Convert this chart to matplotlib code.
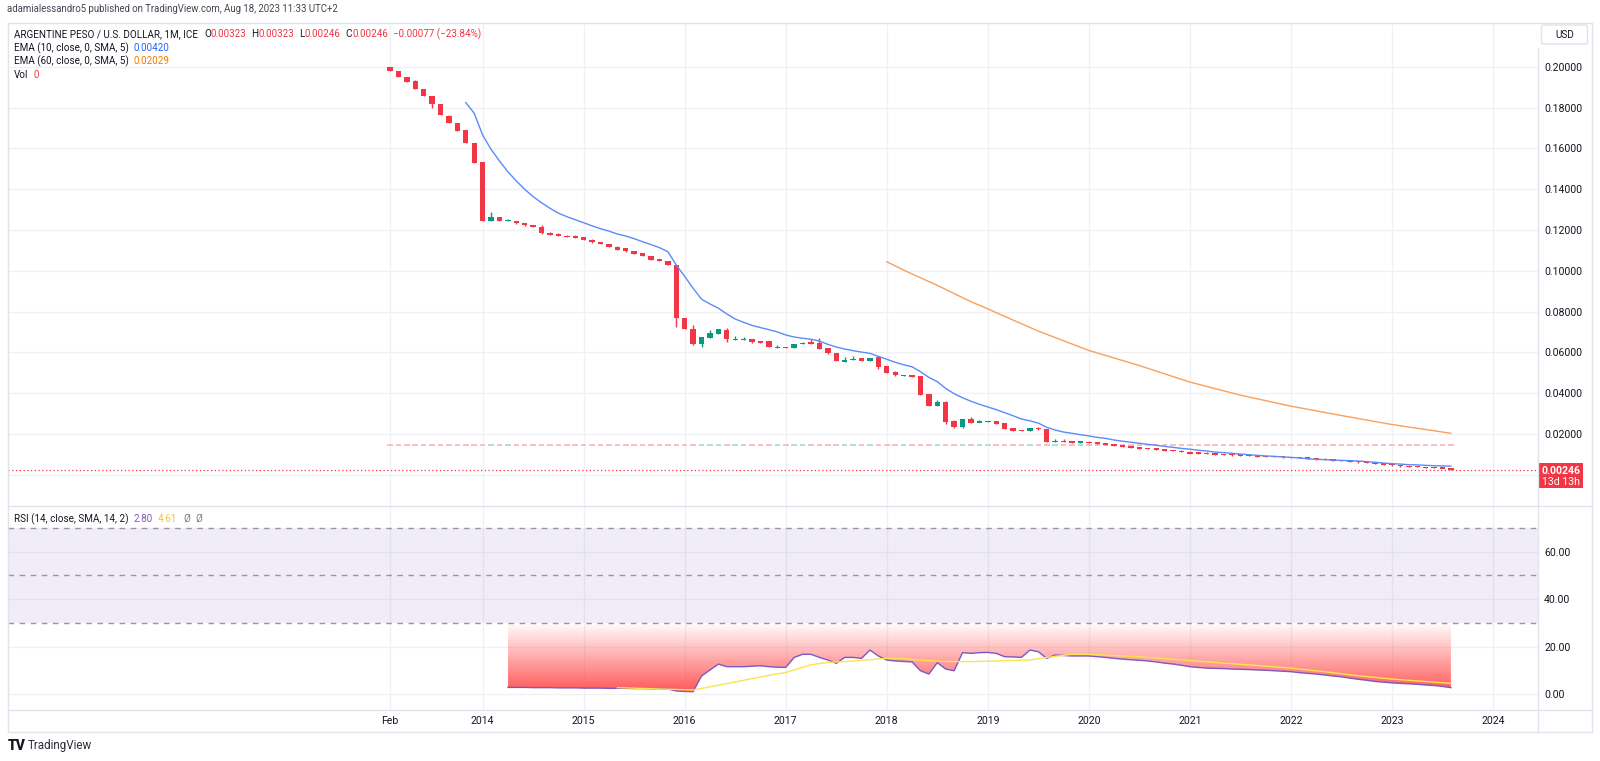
import numpy as np
import matplotlib
matplotlib.use("Agg")
import matplotlib.pyplot as plt
from matplotlib.patches import Rectangle, FancyBboxPatch, Polygon
from matplotlib.lines import Line2D

plt.rcParams['font.family'] = ['Roboto', 'DejaVu Sans']

# ---------------- data (monthly bars, index 0 = Feb 2013) ----------------
opens = [.1997, .1979, .1950, .1928, .1891, .1855, .1816, .1760, .1725, .1688,
         .1627, .1531, .1244, .1263, .1244, .1245, .1232, .1223, .1213, .1187,
         .1180, .1172, .1169, .1164, .1152, .1142, .1131, .1118, .1110, .1097,
         .1085, .1072, .1058, .1049, .1028, .0767, .0713, .0639, .0672, .0691,
         .0709, .0661, .0661, .0665, .0654, .0655, .0624, .0627, .0620, .0641,
         .0647, .0647, .0620, .0598, .0555, .0561, .0570, .0559, .0575, .0534,
         .0502, .0487, .0490, .0484, .0396, .0337, .0358, .0265, .0232, .0273,
         .0258, .0257, .0263, .0252, .0227, .0219, .0216, .0230, .0223, .0159,
         .0166, .0164, .0158, .0162, .0159, .0155, .0150, .0146, .0141, .0134,
         .0132, .0131, .0126, .0121, .0118, .0113, .0110, .0108, .0103, .0101,
         .0101, .0099, .0098, .0095, .0093, .0093, .0091, .0088, .0087, .0085,
         .0082, .0079, .0075, .0072, .0070, .0067, .0064, .0059, .0055, .0052,
         .0048, .0044, .0043, .0038, .0036, .0035, .00323]
highs = [.1999, .1980, .1951, .1935, .1892, .1856, .1817, .1761, .1726, .1690,
         .1628, .1532, .1289, .1264, .1252, .1246, .1233, .1224, .1224, .1188,
         .1185, .1173, .1177, .1165, .1153, .1143, .1132, .1119, .1111, .1098,
         .1086, .1073, .1059, .1050, .1029, .0768, .0734, .0677, .0708, .0714,
         .0721, .0680, .0677, .0666, .0655, .0656, .0638, .0628, .0642, .0652,
         .0664, .0672, .0621, .0599, .0575, .0580, .0571, .0574, .0576, .0535,
         .0510, .0490, .0491, .0485, .0397, .0366, .0359, .0266, .0274, .0281,
         .0270, .0263, .0264, .0253, .0228, .0220, .0230, .0235, .0224, .0176,
         .0174, .0165, .0165, .0163, .0160, .0156, .0151, .0147, .0142, .0135,
         .0133, .0132, .0127, .0122, .0119, .0114, .0112, .0109, .0104, .0102,
         .0102, .0100, .0099, .0096, .0094, .0094, .0092, .0089, .0088, .0086,
         .0083, .0080, .0076, .0073, .0071, .0068, .0065, .0060, .0056, .0053,
         .0049, .0045, .0044, .0039, .0037, .0036, .00323]
lows = [.1978, .1950, .1925, .1891, .1857, .1799, .1762, .1722, .1685, .1624,
        .1528, .1243, .1243, .1243, .1243, .1231, .1221, .1212, .1182, .1174,
        .1169, .1164, .1161, .1149, .1138, .1130, .1117, .1102, .1094, .1082,
        .1070, .1053, .1046, .1026, .0726, .0712, .0638, .0626, .0671, .0690,
        .0652, .0660, .0660, .0648, .0646, .0626, .0623, .0619, .0619, .0640,
        .0643, .0615, .0594, .0558, .0554, .0560, .0558, .0558, .0516, .0499,
        .0486, .0486, .0479, .0391, .0336, .0336, .0247, .0231, .0231, .0254,
        .0257, .0256, .0249, .0225, .0215, .0214, .0215, .0221, .0158, .0158,
        .0159, .0157, .0157, .0154, .0149, .0145, .0140, .0135, .0131, .0126,
        .0125, .0122, .0117, .0114, .0110, .0102, .0102, .0100, .0097, .0096,
        .0094, .0094, .0091, .0087, .0087, .0087, .0084, .0082, .0080, .0077,
        .0074, .0071, .0068, .0066, .0063, .0059, .0056, .0051, .0048, .0045,
        .0040, .0038, .0037, .0034, .0033, .0032, .00246]
closes = [.1980, .1951, .1926, .1892, .1858, .1816, .1763, .1723, .1686, .1625,
          .1529, .1244, .1263, .1244, .1246, .1232, .1222, .1213, .1183, .1175,
          .1170, .1165, .1162, .1150, .1139, .1131, .1118, .1103, .1095, .1083,
          .1071, .1054, .1047, .1027, .0767, .0713, .0639, .0676, .0693, .0713,
          .0664, .0663, .0663, .0649, .0647, .0627, .0626, .0620, .0641, .0647,
          .0644, .0616, .0595, .0559, .0561, .0569, .0559, .0573, .0529, .0500,
          .0487, .0488, .0480, .0392, .0337, .0358, .0260, .0232, .0273, .0255,
          .0259, .0262, .0250, .0226, .0216, .0215, .0229, .0222, .0159, .0166,
          .0160, .0158, .0164, .0155, .0150, .0146, .0141, .0136, .0132, .0127,
          .0126, .0123, .0118, .0115, .0111, .0103, .0103, .0101, .0098, .0097,
          .0095, .0095, .0092, .0088, .0088, .0088, .0085, .0083, .0081, .0078,
          .0075, .0072, .0069, .0067, .0064, .0060, .0057, .0052, .0049, .0046,
          .0041, .0039, .0038, .0035, .0034, .00323, .00246]

ema10_start = 9
ema10 = [.1824, .1772, .1665, .1595, .1538, .1485, .1440, .1399, .1363, .1333,
         .1306, .1282, .1265, .1250, .1235, .1220, .1206, .1194, .1180, .1170,
         .1157, .1142, .1128, .1113, .1093, .1028, .0972, .0914, .0860, .0837,
         .0816, .0788, .0763, .0747, .0732, .0721, .0711, .0700, .0685, .0675,
         .0669, .0664, .0655, .0639, .0626, .0616, .0608, .0601, .0595, .0580,
         .0566, .0551, .0539, .0529, .0505, .0477, .0456, .0423, .0397, .0377,
         .0360, .0345, .0332, .0319, .0304, .0289, .0273, .0264, .0253, .0232,
         .0219, .0209, .0203, .0196, .0190, .0183, .0178, .0170, .0164, .0159,
         .0154, .0149, .0144, .0139, .0134, .0129, .0125, .0120, .0116, .0111,
         .0108, .0105, .0101, .0098, .0095, .0092, .0090, .0087, .0085, .0082,
         .0078, .0075, .0074, .0072, .0070, .0069, .0067, .0064, .0061, .0057,
         .0054, .0052, .0049, .0048, .0046, .0044, .0043, .0042]

ema60_idx = [59, 61, 65, 69, 71, 73, 77, 83, 89, 95, 101, 107, 113, 119, 126]
ema60 = [.1044, .1003, .0928, .0848, .0813, .0776, .0704, .0609, .0535, .0454,
         .0390, .0336, .0290, .0246, .0203]

rsi_start = 14
rsi = [2.9, 2.9, 2.9, 2.8, 2.8, 2.8, 2.7, 2.7, 2.7, 2.6, 2.6, 2.6, 2.5, 2.5,
       2.5, 2.4, 2.4, 2.3, 2.3, 2.2, 1.4, 1.2, 1.1, 7.7, 10.2, 12.7, 11.6, 11.6,
       11.6, 11.8, 12.0, 11.6, 11.4, 11.3, 15.5, 16.8, 16.8, 15.5, 14.4, 13.0,
       15.5, 15.5, 15.1, 18.6, 16.1, 14.4, 14.0, 13.8, 13.6, 9.9, 8.5, 13.3,
       10.6, 9.9, 17.5, 17.2, 17.5, 17.6, 17.2, 15.8, 15.7, 15.5, 18.6, 17.9,
       15.1, 16.5, 16.3, 16.1, 16.1, 16.1, 15.8, 15.5, 15.1, 14.8, 14.5, 14.3,
       14.0, 13.6, 13.1, 12.7, 12.2, 11.6, 11.3, 11.0, 10.9, 10.8, 10.6, 10.5,
       10.4, 10.2, 10.1, 9.9, 9.7, 9.5, 9.1, 8.8, 8.5, 8.1, 7.7, 7.3, 6.8, 6.3,
       5.9, 5.4, 5.1, 4.8, 4.6, 4.4, 4.2, 3.9, 3.7, 3.3, 2.8]

rsi_sma_idx = [27, 36, 40, 44, 47, 50, 52, 55, 59, 61, 63, 66, 69, 72, 76, 78,
               81, 83, 86, 89, 92, 96, 99, 103, 107, 111, 115, 119, 126]
rsi_sma = [2.8, 1.8, 4.5, 7.3, 9.2, 12.4, 13.4, 14.0, 15.1, 15.1, 14.3, 13.8,
           13.7, 14.0, 14.4, 15.5, 16.8, 16.8, 16.3, 15.8, 15.0, 13.9, 13.1,
           12.1, 11.0, 9.5, 7.8, 6.4, 4.6]

vol_level = 0.0144
last_price = 0.00246

price_ticks = [0.02, 0.04, 0.06, 0.08, 0.10, 0.12, 0.14, 0.16, 0.18, 0.20]
price_grid = [0.0] + price_ticks
rsi_ticks = [0, 20, 40, 60]
time_idx = [0, 11, 23, 35, 47, 59, 71, 83, 95, 107, 119, 131]
time_labels = ["Feb", "2014", "2015", "2016", "2017", "2018", "2019", "2020",
               "2021", "2022", "2023", "2024"]

# ---------------- styling ----------------
W, H = 1600, 761
RED = '#F23645'
TEAL = '#089981'
DARK = '#131722'
GRID = '#EFF1F5'
FRAME = '#E0E3EB'
BLUE = '#5B8BF7'
ORANGE = '#F9A05C'
PURPLE = '#7E57C2'
YELLOW = '#FCE34F'

fig = plt.figure(figsize=(W / 100, H / 100), dpi=100)
fig.patch.set_facecolor('white')


def fx(px):
    return px / W


def fy(py):
    return 1 - py / H


PL, PR = 8, 1538
MT, MB = 23, 506
RB = 710
ax = fig.add_axes([fx(PL), fy(MB), fx(PR) - fx(PL), fy(MT) - fy(MB)])
axr = fig.add_axes([fx(PL), fy(RB), fx(PR) - fx(PL), fy(MB) - fy(RB)])

x0 = 390.0
dx = 8.42
xlim = ((PL - x0) / dx, (PR - x0) / dx)
yzero, ppu = 474.7, 2040.0
ylim_main = ((yzero - MB) / ppu, (yzero - MT) / ppu)
rzero, rppu = 694.3, 2.38
ylim_rsi = ((rzero - RB) / rppu, (rzero - MB) / rppu)

for a in (ax, axr):
    a.set_facecolor('none')
    for s in a.spines.values():
        s.set_visible(False)
    a.set_xlim(*xlim)

# ---- main pane ----
ax.set_ylim(*ylim_main)
for v in price_grid:
    ax.axhline(v, color=GRID, lw=1, zorder=0)
for t in time_idx:
    ax.axvline(t, color=GRID, lw=1, zorder=0)
    axr.axvline(t, color=GRID, lw=1, zorder=0)

o = np.array(opens)
hh = np.array(highs)
ll = np.array(lows)
c = np.array(closes)
idx = np.arange(len(c))
up = c >= o
cols = np.where(up, TEAL, RED)

# volume baseline (Vol 0) - zero height bars
vol_cols = np.where(up, '#A6D9CF', '#F8B4BA')
ax.hlines(np.full(len(c), vol_level), idx - 0.33, idx + 0.33, colors=vol_cols, lw=1.2, zorder=1)

ax.vlines(idx, ll, hh, colors=cols, lw=1, zorder=2)
min_h = 1.4 / ppu
bot = np.minimum(o, c)
hgt = np.abs(c - o)
small = hgt < min_h
mid = (o + c) / 2
bot = np.where(small, mid - min_h / 2, bot)
hgt = np.where(small, min_h, hgt)
ax.bar(idx, hgt, bottom=bot, width=0.64, color=cols, lw=0, zorder=3)

ax.plot(np.arange(ema10_start, ema10_start + len(ema10)), ema10, color=BLUE, lw=1, zorder=4)
ax.plot(ema60_idx, ema60, color=ORANGE, lw=1, zorder=4)
ax.axhline(last_price, color=RED, lw=0.9, ls=(0, (1, 2)), zorder=4)

ax.yaxis.tick_right()
ax.set_yticks(price_ticks)
ax.set_yticklabels([f"{v:.5f}" for v in price_ticks])
ax.tick_params(axis='y', length=0, pad=4.5, labelsize=7.6, labelcolor=DARK)
ax.set_xticks([])

# ---- RSI pane ----
axr.set_ylim(*ylim_rsi)
for v in rsi_ticks:
    axr.axhline(v, color=GRID, lw=1, zorder=0)
axr.axhspan(30, 70, color=PURPLE, alpha=0.11, lw=0, zorder=0.5)
for v in (70, 50, 30):
    axr.axhline(v, color='#9598A1', lw=1, ls=(0, (4, 4)), zorder=1)

rx = np.arange(rsi_start, rsi_start + len(rsi))
rv = np.array(rsi)
grad = np.zeros((256, 1, 4))
tt = np.linspace(0, 1, 256)
grad[:, 0, 0] = 1.0
grad[:, 0, 1] = 0.31
grad[:, 0, 2] = 0.31
grad[:, 0, 3] = (1 - tt) * 0.98
im = axr.imshow(grad, extent=[rx[0], rx[-1], 0, 30], origin='lower', aspect='auto',
                zorder=1.5, interpolation='bilinear')
verts = np.vstack([np.column_stack([rx, rv]), [[rx[-1], 30], [rx[0], 30]]])
poly = Polygon(verts, closed=True, transform=axr.transData, facecolor='none', edgecolor='none')
axr.add_patch(poly)
im.set_clip_path(poly)
axr.plot(rx, rv, color=PURPLE, lw=1, zorder=3)
axr.plot(rsi_sma_idx, rsi_sma, color=YELLOW, lw=1, zorder=3)
axr.set_xlim(*xlim)
axr.set_ylim(*ylim_rsi)

axr.yaxis.tick_right()
axr.set_yticks(rsi_ticks)
axr.set_yticklabels([f"{v:.2f}" for v in rsi_ticks])
axr.tick_params(axis='y', length=0, pad=4.5, labelsize=7.6, labelcolor=DARK)
axr.set_xticks(time_idx)
axr.set_xticklabels(time_labels)
axr.tick_params(axis='x', length=0, pad=4.5, labelsize=7.6, labelcolor=DARK)

# ---- frame ----
def fline(xs, ys, color=FRAME, lw=1):
    fig.add_artist(Line2D([fx(v) for v in xs], [fy(v) for v in ys], color=color, lw=lw,
                          transform=fig.transFigure))

fline([7.5, 1592, 1592, 7.5, 7.5], [22.5, 22.5, 732, 732, 22.5])
fline([7.5, 1592], [506, 506])
fline([7.5, 1592], [710, 710])
fline([1538, 1538], [48, 732])

usd = FancyBboxPatch((fx(1541.5), fy(44)), fx(46), 19 / H,
                     boxstyle="round,pad=0,rounding_size=0.002", transform=fig.transFigure,
                     facecolor='white', edgecolor=FRAME, lw=1)
fig.add_artist(usd)
fig.text(fx(1564.5), fy(34.5), "USD", fontsize=7.2, color=DARK, ha='center', va='center')

fig.add_artist(Rectangle((fx(1538), fy(488)), fx(45), 25 / H, transform=fig.transFigure,
                         facecolor=RED, edgecolor='none'))
fig.text(fx(1560.5), fy(470.5), "0.00246", fontsize=7.6, color='white', ha='center',
         va='center', fontweight='bold')
fig.text(fx(1560.5), fy(482), "13d 13h", fontsize=7.6, color='white', ha='center', va='center')

# ---- texts ----
renderer = fig.canvas.get_renderer()


def runs(x, y, parts, size=7.15):
    for txt, col, gap in parts:
        t = fig.text(fx(x), fy(y), txt, color=col, fontsize=size, ha='left', va='center')
        x += t.get_window_extent(renderer).width + gap
    return x


fig.text(fx(7), fy(9), "adamialessandro5 published on TradingView.com, Aug 18, 2023 11:33 UTC+2",
         fontsize=6.9, color='#434651', ha='left', va='center')

runs(14, 34, [("ARGENTINE PESO / U.S. DOLLAR, 1M, ICE", DARK, 6),
              ("O", DARK, 0), ("0.00323", RED, 5),
              ("H", DARK, 0), ("0.00323", RED, 5),
              ("L", DARK, 0), ("0.00246", RED, 5),
              ("C", DARK, 0), ("0.00246", RED, 5),
              ("\u22120.00077 (\u221223.84%)", RED, 0)])
runs(14, 48, [("EMA (10, close, 0, SMA, 5)", DARK, 5), ("0.00420", '#2962FF', 0)])
runs(14, 61.5, [("EMA (60, close, 0, SMA, 5)", DARK, 5), ("0.02029", '#F57C00', 0)])
runs(14, 75, [("Vol", DARK, 5), ("0", RED, 0)])
runs(14, 519, [("RSI (14, close, SMA, 14, 2)", DARK, 5), ("2.80", PURPLE, 5),
               ("4.61", '#FBC02D', 6), ("\u00d8", '#787B86', 5), ("\u00d8", '#787B86', 0)])

fig.text(fx(8), fy(746), "TV", fontsize=10, color=DARK, ha='left', va='center',
         fontweight='black')
fig.text(fx(28), fy(746), "TradingView", fontsize=8.4, color='#2A2E39', ha='left', va='center')

fig.savefig("out.png", dpi=100, facecolor='white')
